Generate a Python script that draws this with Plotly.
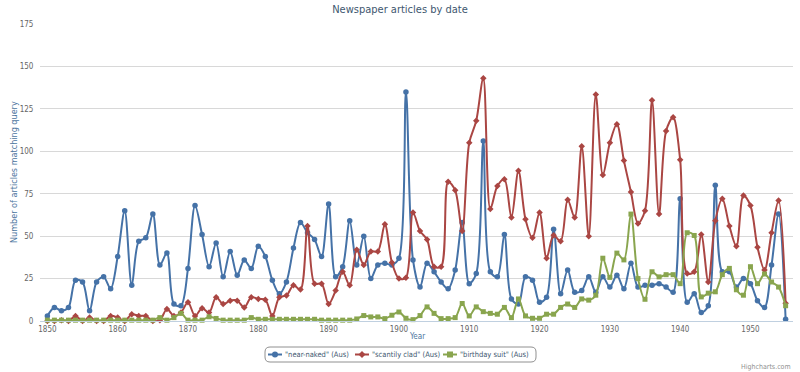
import plotly.graph_objects as go

years = list(range(1850, 1956))

near_naked = [3, 8, 6, 8, 24, 23, 6, 23, 26, 19,
              38, 65, 21, 47, 49, 63, 33, 40, 10, 9,
              31, 68, 51, 32, 46, 26, 41, 27, 36, 31,
              44, 38, 24, 16, 23, 43, 58, 52, 48, 38,
              69, 26, 32, 59, 33, 50, 25, 33, 34, 33,
              37, 135, 36, 20, 34, 29, 23, 19, 30, 58,
              22, 28, 106, 29, 26, 51, 13, 10, 26, 24,
              11, 14, 54, 16, 30, 17, 18, 26, 17, 26,
              20, 27, 19, 34, 20, 21, 21, 22, 20, 17,
              72, 11, 16, 5, 9, 80, 29, 29, 20, 25,
              22, 12, 8, 33, 63, 1]

scantily_clad = [0, 0, 0.5, 0, 3, 0, 2, 0, 0, 3,
                 2, 0, 4, 3, 3, 0, 0.5, 7, 3, 5,
                 11, 3, 7.5, 5, 14, 10, 12, 12, 8, 14,
                 13, 12.5, 3, 14, 15, 21, 18.5, 56, 22, 22,
                 10, 18, 29, 21, 42, 33, 41, 41, 57, 34.5,
                 25, 25.5, 64, 53, 48, 32, 32, 82, 77, 53,
                 105, 118, 143, 66, 79.5, 83.5, 61, 88.5, 60, 49,
                 64, 37, 50.5, 47, 71.5, 61, 103, 50, 133.5, 86,
                 105, 116, 94.5, 76, 57.5, 65, 130, 63, 112, 120,
                 95, 28, 29, 51, 23, 59, 72, 56, 44, 74,
                 68, 43.5, 30, 52, 71, 10.5]

birthday_suit = [0.5, 0.5, 0.5, 0.5, 0.5, 0.5, 0.5, 0.5, 0.5, 0.5,
                 0.5, 0.5, 0.5, 0.5, 0.5, 0.5, 2, 0.5, 2, 4.5,
                 0.5, 0.5, 0.5, 2.5, 1.5, 0.5, 0.5, 0.5, 0.5, 2,
                 1, 1, 1, 1, 1, 1, 1, 1, 1, 0.5,
                 0.5, 0.5, 0.5, 0.5, 1.2, 3.2, 2.4, 2.4, 1.4, 3.4,
                 5.3, 1.6, 0.8, 3.2, 8.3, 4.5, 1.4, 1.4, 2, 10.3,
                 3, 8.3, 5.5, 4.5, 4, 8, 2, 13, 3, 1.6,
                 1.6, 4, 4, 8, 10, 8, 13, 12.3, 15.2, 37,
                 25.7, 40, 36, 63, 25, 12.8, 29, 26, 27.3, 27.3,
                 22, 52, 50.4, 14.2, 16.4, 17.2, 27.3, 31, 18.4, 15.2,
                 32, 22, 27.7, 23, 20, 9]

series_names = ['"near-naked" (Aus)', '"scantily clad" (Aus)', '"birthday suit" (Aus)']
series_values = [near_naked, scantily_clad, birthday_suit]
colors = ["#4572A7", "#AA4643", "#89A54E"]
symbols = ["circle", "diamond", "square"]
marker_sizes = [5.5, 5, 5]

FONT = "DejaVu Sans Condensed, DejaVu Sans, sans-serif"

# plot-area geometry in figure pixels
W, H = 800, 372
L, R, T, B = 40, 7, 24, 51
PW, PH = W - L - R, H - T - B


def px(x):
    return (x - L) / PW


def py(y):
    return (H - B - y) / PH


fig = go.Figure()
for name, vals, c, s, ms in zip(series_names, series_values, colors, symbols, marker_sizes):
    fig.add_trace(go.Scatter(
        x=years, y=vals, name=name, mode="lines+markers",
        line=dict(color=c, width=2, shape="spline", smoothing=0.9),
        marker=dict(color=c, symbol=s, size=ms),
        cliponaxis=False, showlegend=False,
    ))

fig.update_layout(
    width=W, height=H,
    margin=dict(l=L, r=R, t=T, b=B, autoexpand=False),
    paper_bgcolor="white", plot_bgcolor="white",
    font=dict(family=FONT, size=8, color="#666666"),
    title=dict(text="Newspaper articles by date", x=0.5, xanchor="center",
               xref="container", y=1 - 5 / H, yanchor="top", yref="container",
               font=dict(family=FONT, size=11, color="#3E576F")),
    showlegend=False,
    xaxis=dict(range=[1848.95, 1956.05], tickmode="array",
               tickvals=list(range(1850, 1951, 10)),
               showgrid=False, zeroline=False, automargin=False,
               showline=True, linecolor="#C0D0E0", linewidth=1,
               ticks="", ticklen=0,
               tickfont=dict(size=8, color="#666666")),
    yaxis=dict(range=[0, 175], tickmode="array",
               tickvals=list(range(0, 176, 25)),
               showgrid=True, gridcolor="#D8D8D8", gridwidth=1,
               zeroline=False, showline=False, automargin=False,
               ticks="outside", tickcolor="rgba(0,0,0,0)", ticklen=4,
               tickfont=dict(size=8, color="#666666")),
)

fig.add_annotation(text="Year", xref="paper", yref="paper",
                   x=0.5, y=py(336), xanchor="center", yanchor="middle",
                   showarrow=False, font=dict(family=FONT, size=8, color="#4d759e"))
fig.add_annotation(text="Number of articles matching query", xref="paper", yref="paper",
                   x=px(14), y=py(172), xanchor="center", yanchor="middle",
                   textangle=-90, showarrow=False,
                   font=dict(family=FONT, size=9, color="#4d759e"))
fig.add_annotation(text="Highcharts.com", xref="paper", yref="paper",
                   x=1.0, y=py(367), xanchor="right", yanchor="middle",
                   showarrow=False,
                   font=dict(family=FONT, size=7, color="#909090"))

# ---- legend (Highcharts style box) ----
bx0, bx1, by0, by1, rr = 265, 536, 347, 362, 5
path = (f"M {px(bx0 + rr)} {py(by0)} L {px(bx1 - rr)} {py(by0)} "
        f"Q {px(bx1)} {py(by0)} {px(bx1)} {py(by0 + rr)} L {px(bx1)} {py(by1 - rr)} "
        f"Q {px(bx1)} {py(by1)} {px(bx1 - rr)} {py(by1)} L {px(bx0 + rr)} {py(by1)} "
        f"Q {px(bx0)} {py(by1)} {px(bx0)} {py(by1 - rr)} L {px(bx0)} {py(by0 + rr)} "
        f"Q {px(bx0)} {py(by0)} {px(bx0 + rr)} {py(by0)} Z")
fig.add_shape(type="path", path=path, xref="paper", yref="paper",
              line=dict(color="#909090", width=1), fillcolor="rgba(0,0,0,0)")

item_x = [275, 362, 450]
ly = 354.5
for cx, name, c, s in zip(item_x, series_names, colors, symbols):
    fig.add_shape(type="line", xref="paper", yref="paper",
                  x0=px(cx - 7), x1=px(cx + 7), y0=py(ly), y1=py(ly),
                  line=dict(color=c, width=2))
    if s == "circle":
        fig.add_shape(type="circle", xref="paper", yref="paper",
                      xsizemode="pixel", ysizemode="pixel",
                      xanchor=px(cx), yanchor=py(ly),
                      x0=-3, x1=3, y0=-3, y1=3,
                      fillcolor=c, line=dict(color=c, width=0))
    elif s == "diamond":
        fig.add_shape(type="path", xref="paper", yref="paper",
                      xsizemode="pixel", ysizemode="pixel",
                      xanchor=px(cx), yanchor=py(ly),
                      path="M 0 3.5 L 3.5 0 L 0 -3.5 L -3.5 0 Z",
                      fillcolor=c, line=dict(color=c, width=0))
    else:
        fig.add_shape(type="rect", xref="paper", yref="paper",
                      xsizemode="pixel", ysizemode="pixel",
                      xanchor=px(cx), yanchor=py(ly),
                      x0=-3, x1=3, y0=-3, y1=3,
                      fillcolor=c, line=dict(color=c, width=0))
    fig.add_annotation(text=name, xref="paper", yref="paper",
                       x=px(cx + 8), y=py(ly), xanchor="left", yanchor="middle",
                       showarrow=False,
                       font=dict(family=FONT, size=7.5, color="#3E576F"))

fig.write_html("out.html", config={"displayModeBar": False},
               post_script="document.body.style.margin='0';document.body.style.overflow='hidden';")
